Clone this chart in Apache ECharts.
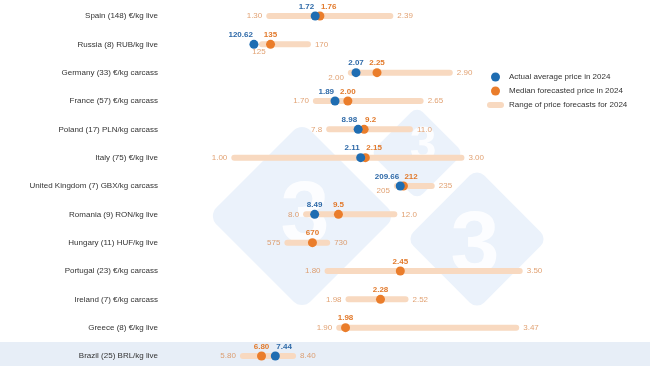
<!DOCTYPE html>
<html><head><meta charset="utf-8">
<script src="https://cdn.jsdelivr.net/npm/echarts@6/dist/echarts.min.js"></script>
<style>html,body{margin:0;padding:0;background:#fff}#c{width:650px;height:366px}</style>
</head><body><div id="c"></div>
<script>
// ---- data (as printed on the chart) ----
const categories = [
  'Spain (148) €/kg live',
  'Russia (8) RUB/kg live',
  'Germany (33) €/kg carcass',
  'France (57) €/kg carcass',
  'Poland (17) PLN/kg carcass',
  'Italy (75) €/kg live',
  'United Kingdom (7) GBX/kg carcass',
  'Romania (9) RON/kg live',
  'Hungary (11) HUF/kg live',
  'Portugal (23) €/kg carcass',
  'Ireland (7) €/kg carcass',
  'Greece (8) €/kg live',
  'Brazil (25) BRL/kg live'
];
const rangeLow    = ['1.30','125','2.00','1.70','7.8','1.00','205','8.0','575','1.80','1.98','1.90','5.80'];
const rangeHigh   = ['2.39','170','2.90','2.65','11.0','3.00','235','12.0','730','3.50','2.52','3.47','8.40'];
const medianPrice = ['1.76','135','2.25','2.00','9.2','2.15','212','9.5','670','2.45','2.28','1.98','6.80'];
const actualPrice = ['1.72','120.62','2.07','1.89','8.98','2.11','209.66','8.49',null,null,null,null,'7.44'];
// local currency units per euro (rows are plotted on a common €/kg scale)
const unitsPerEuro = [1,101,1,1,4.3,1,85.6,4.95,395,1,1,1,5.4];
const legendNames = ['Actual average price in 2024','Median forecasted price in 2024','Range of price forecasts for 2024'];

// ---- styling ----
const FONT = '"Liberation Sans", Arial, Helvetica, sans-serif';
const BLUE = '#1f6db2', ORANGE = '#ea7d2b', PEACH = '#f8d9c0';
const BLUE_TXT = '#2f6aa8', ORANGE_TXT = '#e27a2c', RANGE_TXT = '#da8a4f';

const toEur = (s, i) => s == null ? null : Number(s) / unitsPerEuro[i];
const idx = categories.map((_, i) => i);

function pairAlign(i) {
  const a = toEur(actualPrice[i], i), m = toEur(medianPrice[i], i);
  if (a == null) return { a: 'center', m: 'center' };
  const gap = Math.abs(a - m);
  if (gap < 0.08) return a < m ? { a: 'right', m: 'left' } : { a: 'left', m: 'right' };
  if (gap < 0.15) return { a: a < m ? 'right' : 'left', m: 'center' };
  return { a: 'center', m: 'center' };
}
const offFor = al => al === 'right' ? [-1, 0] : al === 'left' ? [1, 0] : [0, 0];

const barData = idx.map(i => [toEur(rangeLow[i], i), toEur(rangeHigh[i], i), i]);
const medianData = idx.map(i => {
  const al = pairAlign(i).m;
  return { name: medianPrice[i], value: [toEur(medianPrice[i], i), i], label: { align: al, offset: offFor(al) } };
});
const actualData = idx.filter(i => actualPrice[i] != null).map(i => {
  const al = pairAlign(i).a;
  return { name: actualPrice[i], value: [toEur(actualPrice[i], i), i], label: { align: al, offset: offFor(al) } };
});
const lowLabelData = idx.map(i => {
  const a = toEur(actualPrice[i], i), lo = toEur(rangeLow[i], i);
  const item = { name: rangeLow[i], value: [lo, i] };
  if (a != null && a < lo) item.label = { position: 'bottom', distance: 3 };
  else if (a != null && a - lo < 0.08) item.label = { offset: [0, 5] };
  return item;
});
const highLabelData = idx.map(i => ({ name: rangeHigh[i], value: [toEur(rangeHigh[i], i), i] }));

const chart = echarts.init(document.getElementById('c'), null, { renderer: 'canvas' });

function diamond(cx, cy, side, r) {
  return { type: 'rect', x: cx, y: cy, rotation: Math.PI / 4, z: -20, silent: true,
    shape: { x: -side / 2, y: -side / 2, width: side, height: side, r: r },
    style: { fill: 'rgba(150,185,232,0.19)' } };
}
function three(cx, cy, size) {
  return { type: 'text', x: cx, y: cy, z: -19, silent: true,
    style: { text: '3', fontSize: size, fontWeight: 'bold', fontFamily: FONT,
      fill: 'rgba(255,255,255,0.85)', align: 'center', verticalAlign: 'middle' } };
}

chart.setOption({
  animation: false,
  backgroundColor: '#ffffff',
  textStyle: { fontFamily: FONT },
  graphic: [
    { type: 'rect', z: -30, silent: true, shape: { x: 0, y: 342, width: 650, height: 24 }, style: { fill: '#e7eef7' } },
    diamond(302, 216, 133, 12),
    diamond(417, 153, 66, 8),
    diamond(477, 239, 100, 10),
    three(305, 218, 88),
    three(423, 147, 48),
    three(475, 248, 88)
  ],
  grid: { left: 173, right: 69, top: 16, bottom: 10, containLabel: false, outerBoundsMode: 'none' },
  xAxis: { type: 'value', min: 0.5, max: 4, show: false },
  yAxis: {
    type: 'category', data: categories, inverse: true, boundaryGap: false,
    axisLine: { show: false }, axisTick: { show: false }, splitLine: { show: false },
    axisLabel: { fontSize: 8, color: '#333333', margin: 15, fontFamily: FONT }
  },
  legend: {
    orient: 'vertical', left: 482, top: 67, itemWidth: 17, itemHeight: 9, itemGap: 4,
    textStyle: { fontSize: 8, color: '#333333', fontFamily: FONT, lineHeight: 10 },
    data: [
      { name: legendNames[0], icon: 'circle' },
      { name: legendNames[1], icon: 'circle' },
      { name: legendNames[2], icon: 'path://M0,0M17,9M3,1.5H14A3,3,0,0,1,14,7.5H3A3,3,0,0,1,3,1.5Z' }
    ],
    selectedMode: false
  },
  series: [
    {
      name: legendNames[2], type: 'custom', z: 2, silent: true,
      itemStyle: { color: PEACH },
      encode: { x: [0, 1], y: 2 },
      data: barData,
      renderItem: function (params, api) {
        const lo = api.coord([api.value(0), api.value(2)]);
        const hi = api.coord([api.value(1), api.value(2)]);
        const h = 6;
        return { type: 'rect', shape: { x: lo[0], y: lo[1] - h / 2, width: hi[0] - lo[0], height: h, r: h / 2 },
          style: { fill: PEACH } };
      }
    },
    {
      type: 'scatter', symbolSize: 0, z: 3, silent: true, data: lowLabelData,
      label: { show: true, position: 'left', distance: 4, formatter: '{b}', fontSize: 8, color: RANGE_TXT, fontFamily: FONT }
    },
    {
      type: 'scatter', symbolSize: 0, z: 3, silent: true, data: highLabelData,
      label: { show: true, position: 'right', distance: 4, formatter: '{b}', fontSize: 8, color: RANGE_TXT, fontFamily: FONT }
    },
    {
      name: legendNames[1], type: 'scatter', symbolSize: 9, z: 4, data: medianData,
      itemStyle: { color: ORANGE, opacity: 1 },
      label: { show: true, position: 'top', distance: 1, formatter: '{b}', fontSize: 8, fontWeight: 'bold', color: ORANGE_TXT, fontFamily: FONT }
    },
    {
      name: legendNames[0], type: 'scatter', symbolSize: 9, z: 5, data: actualData,
      itemStyle: { color: BLUE, opacity: 1 },
      label: { show: true, position: 'top', distance: 1, formatter: '{b}', fontSize: 8, fontWeight: 'bold', color: BLUE_TXT, fontFamily: FONT }
    }
  ]
});
</script>
</body></html>
